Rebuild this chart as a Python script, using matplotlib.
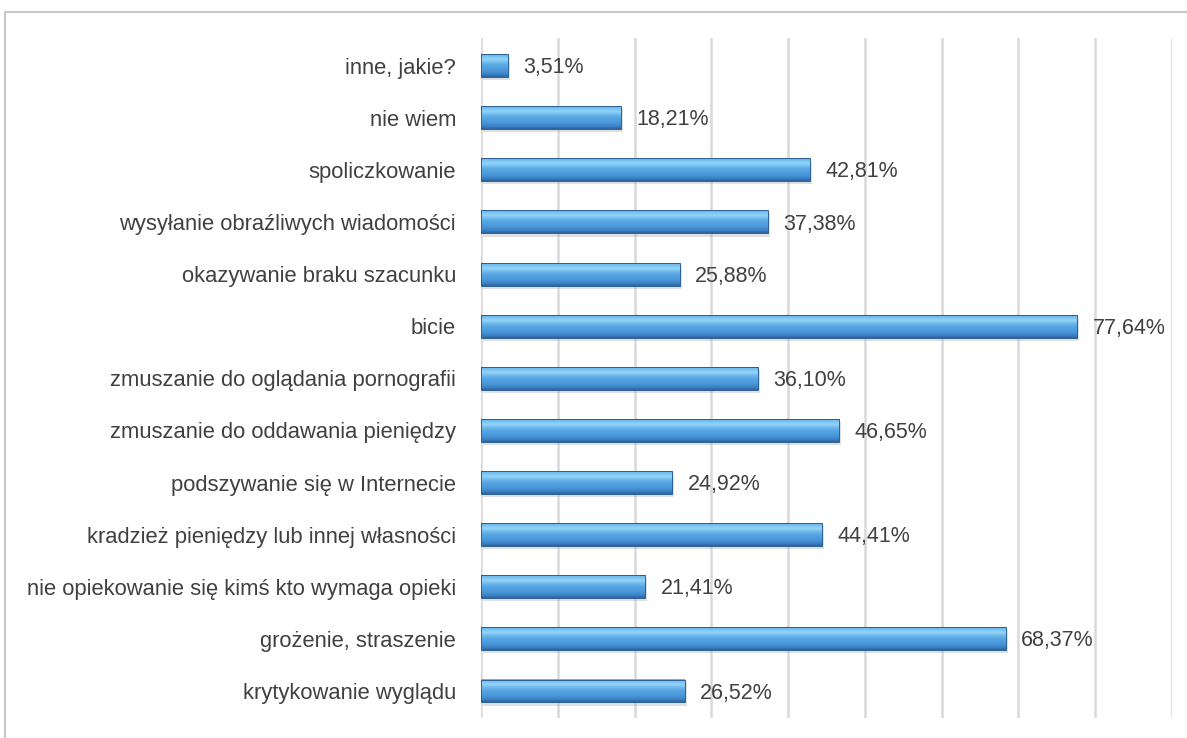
import matplotlib
matplotlib.use("Agg")
import matplotlib.pyplot as plt
import numpy as np
from matplotlib.colors import LinearSegmentedColormap
from matplotlib.patches import Rectangle

# ---------------------------------------------------------------------------
# Data (top to bottom as in the chart)
# ---------------------------------------------------------------------------
categories = [
    "inne, jakie?",
    "nie wiem",
    "spoliczkowanie",
    "wysyłanie obraźliwych wiadomości",
    "okazywanie braku szacunku",
    "bicie",
    "zmuszanie do oglądania pornografii",
    "zmuszanie do oddawania pieniędzy",
    "podszywanie się w Internecie",
    "kradzież pieniędzy lub innej własności",
    "nie opiekowanie się kimś kto wymaga opieki",
    "grożenie, straszenie",
    "krytykowanie wyglądu",
]
values = [3.51, 18.21, 42.81, 37.38, 25.88, 77.64, 36.10, 46.65,
          24.92, 44.41, 21.41, 68.37, 26.52]

_TEXT = "#404040"
_GRID = "#d9d9d9"
_BAR_DARK = "#2b5f94"

# vertical gradient, top -> bottom, for the bevelled bars
_bar_cmap = LinearSegmentedColormap.from_list(
    "bevel",
    [(0.0, "#62b2ea"), (0.22, "#93d4f8"), (0.45, "#5cabe6"),
     (0.75, "#4895d8"), (0.9, "#3a7fc0"), (1.0, "#2c639c")],
)

plt.rcParams["font.family"] = ["Liberation Sans", "DejaVu Sans"]

fig = plt.figure(figsize=(11.87, 7.38), dpi=100)
fig.patches.append(Rectangle((5 / 1187, -0.01), 1.0, 0.9837 + 0.01,
                             transform=fig.transFigure, fill=False,
                             edgecolor="#c8c8c8", linewidth=1.5))

ax = fig.add_axes([481 / 1187, 0.027, 691 / 1187, 0.9215])
y = list(range(len(categories)))
h = 0.44
grad = np.linspace(0, 1, 64).reshape(-1, 1)

# soft shadow below each bar
ax.barh([i + 0.06 for i in y], values, height=h, left=0.25,
        color="#a8a8a8", alpha=0.35, linewidth=0, zorder=2)
for i, v in zip(y, values):
    ax.imshow(grad, cmap=_bar_cmap, aspect="auto", interpolation="bilinear",
              extent=(0, v, i + h / 2, i - h / 2), zorder=3)
ax.barh(y, values, height=h, fill=False, edgecolor=_BAR_DARK,
        linewidth=0.7, zorder=4)

for i, v in zip(y, values):
    ax.text(v + 2.0, i + 0.04, f"{v:.2f}%".replace(".", ","), va="center",
            ha="left", fontsize=15.5, color=_TEXT, zorder=5)

ax.set_xlim(0, 90)
ax.set_ylim(len(categories) - 0.48, -0.53)
ax.set_xticks(range(0, 91, 10))
ax.xaxis.grid(True, color=_GRID, linewidth=1.8)
ax.set_axisbelow(True)
ax.tick_params(axis="x", bottom=False, labelbottom=False)
ax.set_yticks(y)
ax.set_yticklabels(categories, fontsize=15.8, color=_TEXT)
ax.tick_params(axis="y", length=0, pad=18)
for s in ax.spines.values():
    s.set_visible(False)

fig.savefig("out.png", dpi=100)
